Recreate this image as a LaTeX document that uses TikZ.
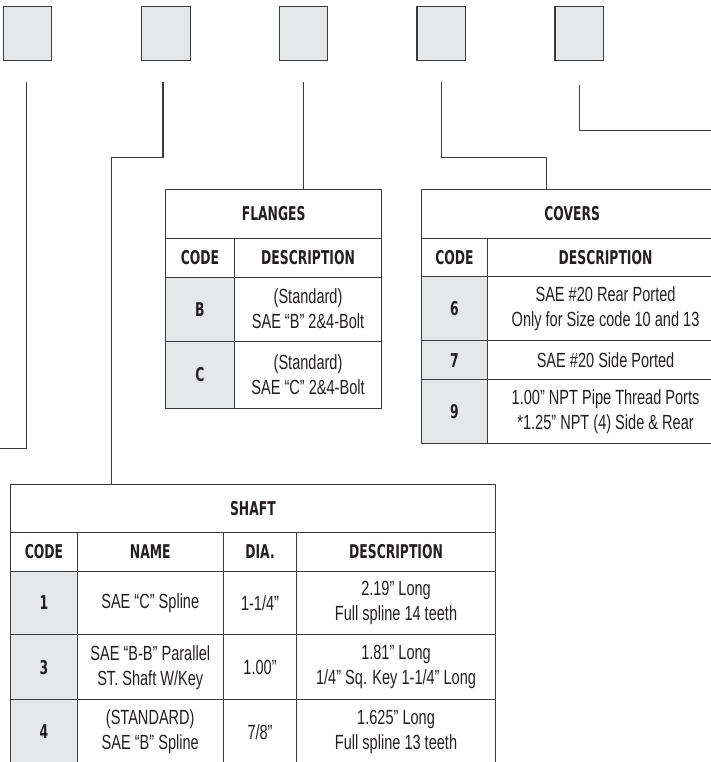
\documentclass[tikz,border=0pt]{standalone}
\usepackage{fontspec}
\usepackage{graphicx}
\setmainfont{Liberation Sans}
\newfontfamily\bodyf{Liberation Sans}[FakeStretch=0.71]
\newfontfamily\hdf{DejaVu Sans}
\newcommand\hdtext[1]{\scalebox{0.65}[1]{\hdf\bfseries #1}}
\definecolor{linec}{HTML}{3A3A3A}
\definecolor{grayfill}{HTML}{E6E7E8}
\definecolor{txt}{HTML}{231F20}
\tikzset{
  pbox/.style={draw=linec, fill=grayfill, line width=1.2pt, minimum width=48.5pt, minimum height=54.3pt, inner sep=0pt},
  cellst/.style={draw=linec, line width=1.1pt, inner sep=0pt, anchor=north west, align=center, text=txt,
    font=\bodyf\fontsize{20.5}{25}\selectfont},
  headst/.style={cellst, font=\hdf\bfseries\fontsize{19}{24}\selectfont},
  codest/.style={headst, fill=grayfill},
  conn/.style={draw=linec, line width=1.2pt}
}
\begin{document}
\begin{tikzpicture}[x=1pt,y=-1pt]
\useasboundingbox (0,0) rectangle (711,762);
\clip (0,0) rectangle (711,762);
% top code boxes
\node[pbox, anchor=north west] (b1) at (2.7,5.7) {};
\node[pbox, anchor=north west] (b2) at (141,5.7) {};
\node[pbox, anchor=north west] (b3) at (278.5,5.7) {};
\node[pbox, anchor=north west] (b4) at (416.3,5.7) {};
\node[pbox, anchor=north west] (b5) at (554.3,5.7) {};
% connector starts
\coordinate (s1) at (26.7,82.3);
\coordinate (s2) at (163,82.3);
\coordinate (s3) at (303.3,82.3);
\coordinate (s4) at (441.7,82.3);
\coordinate (s5) at (579.7,85.3);
\coordinate (e1) at (0,448.5);
\coordinate (e5) at (711,130.3);
% FLANGES table
\node[headst, minimum width=216.3pt, minimum height=48.2pt] (flt) at (165,189.3) {\hdtext{FLANGES}};
\node[headst, minimum width=68.7pt, minimum height=39pt] (flhc) at (165,237.5) {\hdtext{CODE}};
\node[headst, minimum width=147.6pt, minimum height=39pt] (flhd) at (233.7,237.5) {\hdtext{DESCRIPTION}};
\node[codest, minimum width=68.7pt, minimum height=64.2pt] (flbc) at (165,276.5) {\hdtext{B}};
\node[cellst, minimum width=147.6pt, minimum height=64.2pt] (flbd) at (233.7,276.5) {(Standard)\\SAE “B” 2\&4-Bolt};
\node[codest, minimum width=68.7pt, minimum height=66.8pt] (flcc) at (165,340.7) {\hdtext{C}};
\node[cellst, minimum width=147.6pt, minimum height=66.8pt] (flcd) at (233.7,340.7) {(Standard)\\SAE “C” 2\&4-Bolt};
% COVERS table
\node[headst, minimum width=302.2pt, minimum height=48.2pt] (cvt) at (420.5,189.3) {\hdtext{COVERS}};
\node[headst, minimum width=66.8pt, minimum height=38.7pt] (cvhc) at (420.5,237.5) {\hdtext{CODE}};
\node[headst, minimum width=235.4pt, minimum height=38.7pt] (cvhd) at (487.3,237.5) {\hdtext{DESCRIPTION}};
\node[codest, minimum width=66.8pt, minimum height=63.8pt] (cv6c) at (420.5,276.2) {\hdtext{6}};
\node[cellst, minimum width=235.4pt, minimum height=63.8pt] (cv6d) at (487.3,276.2) {SAE \#20 Rear Ported\\Only for Size code 10 and 13};
\node[codest, minimum width=66.8pt, minimum height=39.3pt] (cv7c) at (420.5,340) {\hdtext{7}};
\node[cellst, minimum width=235.4pt, minimum height=39.3pt] (cv7d) at (487.3,340) {SAE \#20 Side Ported};
\node[codest, minimum width=66.8pt, minimum height=63.4pt] (cv9c) at (420.5,379.3) {\hdtext{9}};
\node[cellst, minimum width=235.4pt, minimum height=63.4pt] (cv9d) at (487.3,379.3) {1.00” NPT Pipe Thread Ports\\*1.25” NPT (4) Side \& Rear};
% SHAFT table
\node[headst, minimum width=484.7pt, minimum height=47.7pt] (sht) at (10,484) {\hdtext{SHAFT}};
\node[headst, minimum width=66.7pt, minimum height=39pt] (shhc) at (10,531.7) {\hdtext{CODE}};
\node[headst, minimum width=146pt, minimum height=39pt] (shhn) at (76.7,531.7) {\hdtext{NAME}};
\node[headst, minimum width=73.6pt, minimum height=39pt] (shhdia) at (222.7,531.7) {\hdtext{DIA.}};
\node[headst, minimum width=198.4pt, minimum height=39pt] (shhd) at (296.3,531.7) {\hdtext{DESCRIPTION}};
\node[codest, minimum width=66.7pt, minimum height=63.6pt] (sh1c) at (10,570.7) {\hdtext{1}};
\node[cellst, minimum width=146pt, minimum height=63.6pt] (sh1n) at (76.7,570.7) {SAE “C” Spline};
\node[cellst, minimum width=73.6pt, minimum height=63.6pt] (sh1dia) at (222.7,570.7) {1-1/4”};
\node[cellst, minimum width=198.4pt, minimum height=63.6pt] (sh1d) at (296.3,570.7) {2.19” Long\\Full spline 14 teeth};
\node[codest, minimum width=66.7pt, minimum height=64.7pt] (sh3c) at (10,634.3) {\hdtext{3}};
\node[cellst, minimum width=146pt, minimum height=64.7pt] (sh3n) at (76.7,634.3) {SAE “B-B” Parallel\\ST. Shaft W/Key};
\node[cellst, minimum width=73.6pt, minimum height=64.7pt] (sh3dia) at (222.7,634.3) {1.00”};
\node[cellst, minimum width=198.4pt, minimum height=64.7pt] (sh3d) at (296.3,634.3) {1.81” Long\\1/4” Sq. Key 1-1/4” Long};
\node[codest, minimum width=66.7pt, minimum height=65pt] (sh4c) at (10,699) {\hdtext{4}};
\node[cellst, minimum width=146pt, minimum height=65pt] (sh4n) at (76.7,699) {(STANDARD)\\SAE “B” Spline};
\node[cellst, minimum width=73.6pt, minimum height=65pt] (sh4dia) at (222.7,699) {7/8”};
\node[cellst, minimum width=198.4pt, minimum height=65pt] (sh4d) at (296.3,699) {1.625” Long\\Full spline 13 teeth};
% connectors
\draw[conn] (s1) |- (e1);
\draw[conn] (s2) -- (163,157.3) -| (sht.north -| 111.7,0);
\draw[conn] (s3) -- (s3 |- flt.north);
\draw[conn] (s4) -- (441.7,157.3) -| (cvt.north -| 546.7,0);
\draw[conn] (s5) |- (e5);
\end{tikzpicture}
\end{document}
